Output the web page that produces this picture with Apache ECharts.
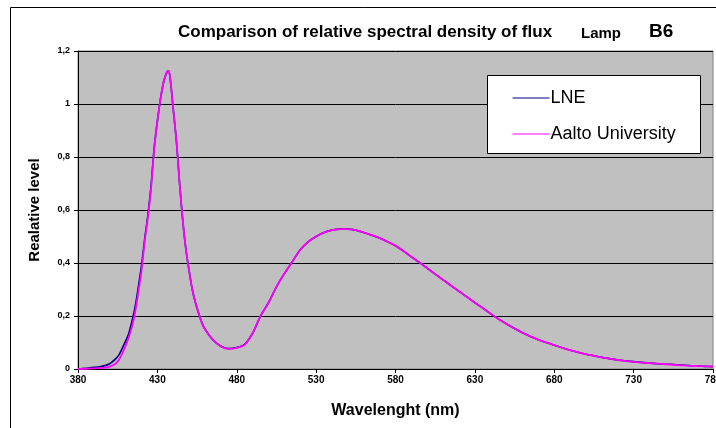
<!DOCTYPE html>
<html>
<head>
<meta charset="utf-8">
<script src="https://cdn.jsdelivr.net/npm/echarts@6/dist/echarts.min.js"></script>
<style>
  html, body { margin: 0; padding: 0; background: #fff; }
  #chart { width: 716px; height: 428px; }
</style>
</head>
<body>
<div id="chart"></div>
<script>
// wavelength (nm) and relative level
const wavelengths = [380, 385, 390, 395, 400, 404, 406, 408, 410, 412, 414, 416, 418, 420, 422, 424, 426, 428, 430, 432, 434, 436, 437, 438, 440, 442, 444, 446, 448, 450, 452, 454, 456, 458, 460, 465, 470, 475, 480, 485, 490, 495, 500, 505, 510, 515, 520, 525, 530, 535, 540, 545, 550, 555, 560, 565, 570, 575, 580, 585, 590, 595, 600, 605, 610, 615, 620, 625, 630, 635, 640, 645, 650, 655, 660, 665, 670, 675, 680, 685, 690, 695, 700, 705, 710, 715, 720, 725, 730, 735, 740, 745, 750, 755, 760, 765, 770, 775, 780];

const lne = [0.000, 0.003, 0.006, 0.010, 0.020, 0.040, 0.055, 0.080, 0.105, 0.135, 0.180, 0.235, 0.310, 0.390, 0.490, 0.580, 0.690, 0.835, 0.935, 1.020, 1.085, 1.120, 1.125, 1.100, 0.980, 0.860, 0.700, 0.560, 0.450, 0.370, 0.300, 0.250, 0.210, 0.175, 0.150, 0.110, 0.086, 0.077, 0.081, 0.093, 0.135, 0.200, 0.250, 0.310, 0.360, 0.405, 0.450, 0.480, 0.500, 0.515, 0.524, 0.528, 0.528, 0.524, 0.515, 0.505, 0.494, 0.480, 0.465, 0.445, 0.423, 0.402, 0.380, 0.358, 0.336, 0.315, 0.293, 0.272, 0.250, 0.230, 0.208, 0.188, 0.170, 0.153, 0.137, 0.123, 0.110, 0.100, 0.090, 0.080, 0.071, 0.063, 0.056, 0.050, 0.044, 0.039, 0.034, 0.031, 0.028, 0.025, 0.022, 0.020, 0.019, 0.017, 0.015, 0.013, 0.011, 0.010, 0.009];

const aalto = [0.000, 0.001, 0.002, 0.004, 0.009, 0.022, 0.037, 0.060, 0.088, 0.120, 0.160, 0.215, 0.290, 0.370, 0.480, 0.570, 0.680, 0.830, 0.935, 1.020, 1.085, 1.120, 1.125, 1.100, 0.980, 0.860, 0.700, 0.560, 0.450, 0.370, 0.300, 0.250, 0.210, 0.175, 0.150, 0.110, 0.085, 0.076, 0.080, 0.092, 0.135, 0.200, 0.250, 0.310, 0.360, 0.405, 0.450, 0.480, 0.500, 0.515, 0.524, 0.528, 0.528, 0.524, 0.515, 0.505, 0.494, 0.480, 0.465, 0.445, 0.423, 0.402, 0.380, 0.358, 0.336, 0.315, 0.293, 0.272, 0.250, 0.230, 0.208, 0.188, 0.170, 0.153, 0.137, 0.123, 0.110, 0.100, 0.090, 0.080, 0.071, 0.063, 0.056, 0.050, 0.044, 0.039, 0.034, 0.030, 0.027, 0.024, 0.022, 0.020, 0.018, 0.016, 0.014, 0.012, 0.011, 0.010, 0.009];

const seriesNames = ['LNE', 'Aalto University'];
const seriesColors = ['#000080', '#ff00ff'];

const FONT = '"Liberation Sans", Arial, sans-serif';

const chart = echarts.init(document.getElementById('chart'), null, { renderer: 'canvas' });

chart.setOption({
  animation: false,
  backgroundColor: '#fff',
  textStyle: { fontFamily: FONT },
  graphic: [
    // outer chart frame (only top and left edges visible)
    {
      type: 'rect', left: 8, top: 5, z: 0,
      shape: { width: 740, height: 460 },
      style: { fill: 'none', stroke: '#000', lineWidth: 1 }
    },
    {
      type: 'text', left: 178, top: 24,
      style: { text: 'Comparison of relative spectral density of flux', font: 'bold 17px ' + FONT, fill: '#000' }
    },
    {
      type: 'text', left: 581, top: 26,
      style: { text: 'Lamp', font: 'bold 15px ' + FONT, fill: '#000' }
    },
    {
      type: 'text', left: 649, top: 22,
      style: { text: 'B6', font: 'bold 19px ' + FONT, fill: '#000' }
    },
    // legend box
    {
      type: 'rect', left: 487, top: 75, z: 5,
      shape: { width: 213, height: 78 },
      style: { fill: '#fff', stroke: '#000', lineWidth: 1 }
    }
  ],
  grid: {
    left: 78, right: 3, top: 51, bottom: 59,
    outerBoundsMode: 'none',
    show: true, backgroundColor: '#c0c0c0', borderColor: '#808080', borderWidth: 1
  },
  legend: {
    z: 10,
    orient: 'vertical',
    left: 507, top: 84,
    itemWidth: 37, itemHeight: 12, itemGap: 18,
    data: seriesNames,
    itemStyle: { opacity: 0 },
    lineStyle: { width: 1.2 },
    textStyle: { fontSize: 18, color: '#000', fontFamily: FONT, padding: [0, 0, 0, -4] }
  },
  xAxis: {
    type: 'value', min: 380, max: 780, interval: 50,
    name: 'Wavelenght (nm)', nameLocation: 'middle', nameGap: 34,
    nameTextStyle: { fontSize: 16, fontWeight: 'bold', color: '#000' },
    axisLine: { lineStyle: { color: '#000' } },
    axisTick: { show: true, length: 4, lineStyle: { color: '#000' } },
    axisLabel: { fontSize: 10, fontWeight: 'bold', color: '#000', margin: 6 },
    splitLine: { show: false }
  },
  yAxis: {
    type: 'value', min: 0, max: 1.2, interval: 0.2,
    name: 'Realative level', nameLocation: 'middle', nameGap: 36,
    nameTextStyle: { fontSize: 15, fontWeight: 'bold', color: '#000' },
    axisLine: { show: true, lineStyle: { color: '#000' } },
    axisTick: { show: true, length: 4, lineStyle: { color: '#000' } },
    axisLabel: {
      fontSize: 9, fontWeight: 'bold', color: '#000', margin: 8,
      formatter: v => String(Math.round(v * 10) / 10).replace('.', ',')
    },
    splitLine: { show: true, lineStyle: { color: '#000', width: 1 } }
  },
  series: [
    {
      name: seriesNames[0], type: 'line', symbol: 'none', smooth: 0.3,
      color: seriesColors[0], lineStyle: { width: 1.6 },
      data: wavelengths.map((w, i) => [w, lne[i]])
    },
    {
      name: seriesNames[1], type: 'line', symbol: 'none', smooth: 0.3,
      color: seriesColors[1], lineStyle: { width: 1.8 },
      data: wavelengths.map((w, i) => [w, aalto[i]])
    }
  ]
});
</script>
</body>
</html>
